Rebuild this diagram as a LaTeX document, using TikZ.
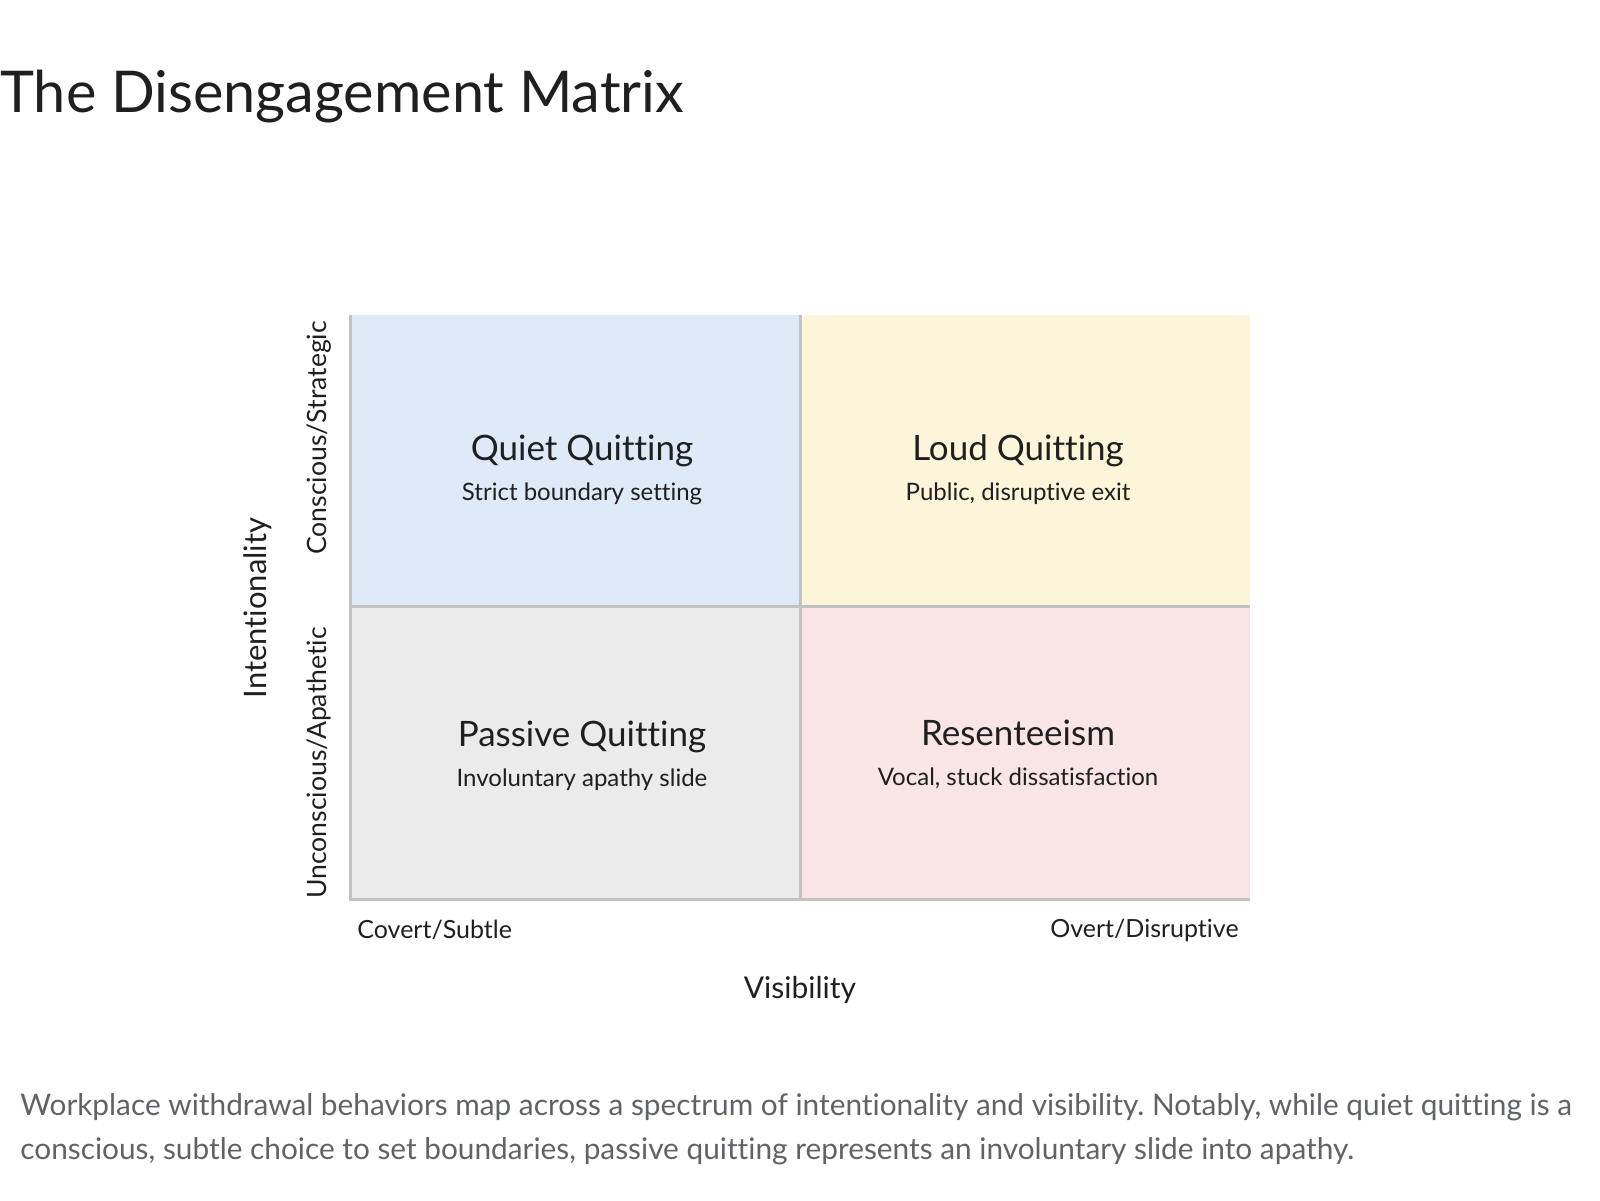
\documentclass[tikz,border=0pt]{standalone}
\usepackage{fontspec}
\setmainfont[Ligatures={NoCommon}]{Lato}
\usetikzlibrary{positioning}
\definecolor{qblue}{HTML}{DFEAF8}
\definecolor{qyellow}{HTML}{FCF5D9}
\definecolor{qgrey}{HTML}{EBEBEB}
\definecolor{qpink}{HTML}{F9E5E6}
\definecolor{gridgrey}{HTML}{C2C2C2}
\definecolor{inkdark}{HTML}{1F1F1F}
\definecolor{capgrey}{HTML}{5F6368}
\tikzset{
  gridline/.style={gridgrey, line width=1.5pt},
  quadtitle/.style={font=\fontsize{17.5}{21}\selectfont, text=inkdark, inner sep=0pt},
  quadsub/.style={font=\fontsize{12}{14}\selectfont, text=inkdark, inner sep=0pt},
  axislabel/.style={font=\fontsize{15}{18}\selectfont, text=inkdark, inner sep=0pt},
  ticklabel/.style={font=\fontsize{12.5}{15}\selectfont, text=inkdark, inner sep=0pt},
  captionline/.style={anchor=west, inner sep=0pt, font=\fontsize{14.9}{18}\selectfont, text=capgrey}
}
\frenchspacing

\begin{document}
\begin{tikzpicture}[x=0.5pt,y=-0.5pt]
\useasboundingbox (0,0) rectangle (1600,1200);
% quadrant fills
\fill[qblue] (350,315) rectangle (800,606);
\fill[qyellow] (800,315) rectangle (1250,606);
\fill[qgrey] (350,606) rectangle (800,899);
\fill[qpink] (800,606) rectangle (1250,899);
% frame and dividers
\coordinate (tl) at (350,315);
\coordinate (bl) at (350,899);
\coordinate (br) at (1250,899);
\coordinate (tm) at (800,315);
\coordinate (bm) at (800,899);
\coordinate (ml) at (350,606);
\coordinate (mr) at (1250,606);
\draw[gridline] (tl) -- (bl) -- (br);
\draw[gridline] (tm) -- (bm);
\draw[gridline] (ml) -- (mr);
% title
\node[anchor=west, inner sep=0pt, font=\fontsize{28.8}{34}\selectfont, text=inkdark] (title) at (0,97) {The Disengagement Matrix};
% quadrants
\node[quadtitle] (quiet) at (582,451) {Quiet Quitting};
\node[quadsub] (quietsub) at (582,494) {Strict boundary setting};
\node[quadtitle] (loud) at (1018,451) {Loud Quitting};
\node[quadsub] (loudsub) at (1018,494) {Public, disruptive exit};
\node[quadtitle] (passive) at (582,737) {Passive Quitting};
\node[quadsub] (passivesub) at (582,780) {Involuntary apathy slide};
\node[quadtitle] (resent) at (1018,733) {Resenteeism};
\node[quadsub] (resentsub) at (1018,778) {Vocal, stuck dissatisfaction};
% axes
\node[ticklabel, font=\fontsize{13.3}{16}\selectfont, rotate=90] (conscious) at (319,438) {Conscious/Strategic};
\node[ticklabel, font=\fontsize{13.3}{16}\selectfont, rotate=90] (unconscious) at (319,763) {Unconscious/Apathetic};
\node[axislabel, font=\fontsize{15.5}{18}\selectfont, rotate=90] (intent) at (258,608) {Intentionality};
\node[ticklabel, anchor=west] (covert) at (357,930) {Covert/Subtle};
\node[ticklabel, anchor=east] (overt) at (1239,930) {Overt/Disruptive};
\node[axislabel] (visib) at (800,990) {Visibility};
% caption
\node[captionline] (cap1) at (20,1107) {Workplace withdrawal behaviors map across a spectrum of intentionality and visibility. Notably, while quiet quitting is a};
\node[captionline] (cap2) at (20,1151) {conscious, subtle choice to set boundaries, passive quitting represents an involuntary slide into apathy.};
\end{tikzpicture}
\end{document}
